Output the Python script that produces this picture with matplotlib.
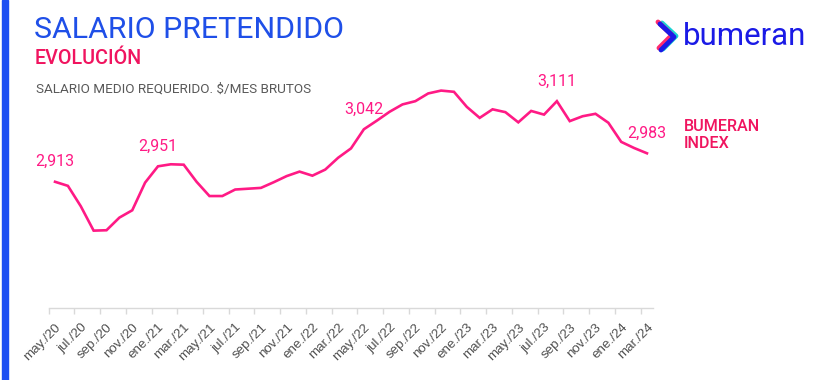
import matplotlib.pyplot as plt
from matplotlib.lines import Line2D
from matplotlib.patches import Rectangle

################### DATOS ###################
meses = ['may./20', 'jun./20', 'jul./20', 'ago./20', 'sep./20', 'oct./20', 'nov./20', 'dic./20',
         'ene./21', 'feb./21', 'mar./21', 'abr./21', 'may./21', 'jun./21', 'jul./21', 'ago./21',
         'sep./21', 'oct./21', 'nov./21', 'dic./21', 'ene./22', 'feb./22', 'mar./22', 'abr./22',
         'may./22', 'jun./22', 'jul./22', 'ago./22', 'sep./22', 'oct./22', 'nov./22', 'dic./22',
         'ene./23', 'feb./23', 'mar./23', 'abr./23', 'may./23', 'jun./23', 'jul./23', 'ago./23',
         'sep./23', 'oct./23', 'nov./23', 'dic./23', 'ene./24', 'feb./24', 'mar./24']

salario = [2913, 2903, 2853, 2793, 2794, 2825, 2843, 2911,
           2951, 2956, 2955, 2913, 2878, 2878, 2894, 2896,
           2898, 2912, 2927, 2938, 2928, 2943, 2972, 2995,
           3042, 3063, 3085, 3103, 3111, 3130, 3137, 3134,
           3097, 3070, 3091, 3084, 3059, 3087, 3078, 3111,
           3062, 3074, 3080, 3058, 3011, 2996, 2983]

# puntos con etiqueta
etiquetas = ['may./20', 'ene./21', 'may./22', 'ago./23', 'mar./24']

################### ESTILO ###################
W, H = 835, 380
rosa = '#ff1a85'
azul = '#1f4fe8'
gris = '#595959'

def fx(px):
    return px / W

def fy(py):
    return 1 - py / H

fig = plt.figure(figsize=(W / 100, H / 100), dpi=100)

# barra azul izquierda
fig.patches.append(Rectangle((fx(2), 0), fx(5.5), 1, transform=fig.transFigure,
                             color='#1d4ff2', zorder=5))

################### GRAFICA ###################
ax = fig.add_axes([fx(48.6), fy(308), fx(653.4) - fx(48.6), fy(80) - fy(308)])

x = list(range(len(meses)))
ax.plot(x, salario, color=rosa, linewidth=1.9, solid_joinstyle='miter')

for m in etiquetas:
    i = meses.index(m)
    ax.annotate(f'{salario[i]:,}', (i, salario[i]), xytext=(0, 9), textcoords='offset points',
                ha='center', va='bottom', color=rosa, fontsize=11.5, family='Roboto')

ax.set_xlim(-0.5, len(meses) - 0.5)
ax.set_ylim(2603, 3163)

for s in ['top', 'right', 'left']:
    ax.spines[s].set_visible(False)
ax.spines['bottom'].set_color('#d9d9d9')
ax.spines['bottom'].set_linewidth(1)
ax.set_yticks([])

ax.set_xticks(x[::2])
ax.set_xticklabels(meses[::2], rotation=45, ha='right', rotation_mode='anchor',
                   fontsize=9.6, color='#505050', family='Liberation Sans')
ax.tick_params(axis='x', which='major', length=0, pad=9.5)
ax.set_xticks([i - 0.5 for i in x[::2]], minor=True)
ax.tick_params(axis='x', which='minor', length=4, color='#d9d9d9', width=1)

################### TEXTOS ###################
fig.text(fx(34), fy(38), 'SALARIO PRETENDIDO', color=azul, fontsize=21.8, family='Roboto',
         va='baseline')
fig.text(fx(35), fy(64), 'EVOLUCIÓN', color='#f0145f', fontsize=14.2, family='Roboto',
         fontweight='medium', va='baseline')
fig.text(fx(36), fy(93), 'SALARIO MEDIO REQUERIDO. $/MES BRUTOS', color=gris, fontsize=9.7,
         family='Roboto', va='baseline')
fig.text(fx(684), fy(131), 'BUMERAN', color='#f0145f', fontsize=11.6, family='Roboto',
         fontweight='medium', va='baseline')
fig.text(fx(684), fy(148), 'INDEX', color='#f0145f', fontsize=11.6, family='Roboto',
         fontweight='medium', va='baseline')

# logo
fig.text(fx(683), fy(45), 'bumeran', color='#1a1ae6', fontsize=22.5, family='Roboto',
         va='baseline')
for dx, dy, c in [(3, 0, '#19d3d3'), (-1, -1, '#ff2a6e'), (1, 1, '#1a1ae6')]:
    xs = [fx(659 + dx), fx(673 + dx), fx(660 + dx)]
    ys = [fy(23 + dy), fy(36 + dy), fy(49 + dy)]
    fig.add_artist(Line2D(xs, ys, transform=fig.transFigure, color=c, linewidth=3.5,
                          solid_capstyle='round', solid_joinstyle='round'))

fig.savefig('out.png', dpi=100)
